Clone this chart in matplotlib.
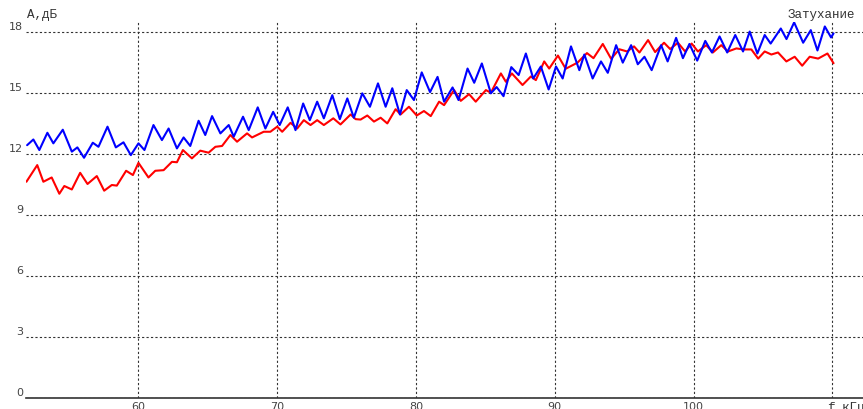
import numpy as np
import matplotlib.pyplot as plt

# верхняя кривая (синяя): частота, кГц и затухание, дБ
f_blue = [52.0, 52.45, 52.88, 53.46, 53.89, 54.57, 55.22, 55.62, 56.1, 56.73,
          57.14, 57.79, 58.39, 58.94, 59.47, 60.02, 60.45, 61.1, 61.71, 62.19,
          62.79, 63.27, 63.75, 64.35, 64.83, 65.32, 65.92, 66.52, 66.88, 67.55,
          67.96, 68.61, 69.16, 69.72, 70.19, 70.77, 71.33, 71.88, 72.36, 72.89,
          73.37, 73.98, 74.52, 75.06, 75.53, 76.14, 76.69, 77.27, 77.82, 78.3,
          78.85, 79.34, 79.86, 80.42, 81.02, 81.56, 82.03, 82.64, 83.07, 83.72,
          84.2, 84.75, 85.4, 85.81, 86.31, 86.87, 87.4, 87.92, 88.45, 89.0,
          89.56, 90.09, 90.57, 91.17, 91.77, 92.13, 92.73, 93.33, 93.82, 94.42,
          94.9, 95.5, 95.98, 96.46, 96.98, 97.66, 98.13, 98.74, 99.23, 99.7,
          100.26, 100.84, 101.32, 101.87, 102.42, 103.0, 103.56, 104.04, 104.59, 105.12,
          105.55, 106.28, 106.69, 107.24, 107.89, 108.44, 108.92, 109.45, 109.9, 110.08]
a_blue = [12.44, 12.72, 12.2, 13.05, 12.53, 13.2, 12.12, 12.33, 11.82, 12.56,
          12.36, 13.35, 12.33, 12.58, 11.95, 12.53, 12.2, 13.43, 12.69, 13.26,
          12.28, 12.82, 12.4, 13.64, 12.94, 13.87, 13.02, 13.43, 12.86, 13.84,
          13.18, 14.3, 13.26, 14.08, 13.43, 14.3, 13.18, 14.49, 13.67, 14.58,
          13.76, 14.9, 13.72, 14.74, 13.79, 14.99, 14.33, 15.48, 14.33, 15.24,
          13.95, 15.15, 14.66, 16.02, 15.05, 15.8, 14.58, 15.28, 14.66, 16.21,
          15.51, 16.46, 14.99, 15.3, 14.85, 16.28, 15.89, 16.95, 15.72, 16.31,
          15.18, 16.31, 15.72, 17.3, 16.13, 16.9, 15.72, 16.56, 16.0, 17.36,
          16.5, 17.36, 16.42, 16.79, 16.13, 17.36, 16.56, 17.72, 16.72, 17.42,
          16.6, 17.57, 17.0, 17.79, 17.0, 17.86, 17.05, 18.03, 16.95, 17.86,
          17.44, 18.18, 17.66, 18.48, 17.48, 18.1, 17.1, 18.28, 17.74, 17.94]

# нижняя кривая (красная)
f_red = [51.95, 52.73, 53.17, 53.77, 54.32, 54.68, 55.22, 55.82, 56.35, 57.02,
         57.55, 58.1, 58.46, 59.13, 59.62, 60.02, 60.74, 61.23, 61.83, 62.43,
         62.79, 63.22, 63.87, 64.47, 65.07, 65.56, 66.04, 66.64, 67.12, 67.84,
         68.2, 69.04, 69.52, 70.01, 70.37, 70.97, 71.45, 71.93, 72.41, 72.89,
         73.37, 74.05, 74.57, 75.3, 75.66, 76.02, 76.5, 76.98, 77.46, 77.94,
         78.54, 78.9, 79.5, 80.06, 80.58, 81.07, 81.67, 82.03, 82.75, 83.23,
         83.83, 84.31, 85.04, 85.4, 86.12, 86.48, 86.91, 87.68, 88.28, 88.64,
         89.24, 89.6, 90.23, 90.79, 91.64, 92.32, 92.79, 93.46, 94.06, 94.65,
         95.21, 95.71, 96.1, 96.72, 97.23, 97.87, 98.31, 98.87, 99.39, 99.86,
         100.31, 100.91, 101.39, 101.99, 102.48, 103.08, 103.59, 104.16, 104.65, 105.12,
         105.6, 106.08, 106.68, 107.28, 107.82, 108.36, 108.97, 109.64, 110.08]
a_red = [10.64, 11.46, 10.64, 10.85, 10.05, 10.43, 10.26, 11.08, 10.53, 10.92,
         10.2, 10.48, 10.45, 11.18, 10.97, 11.57, 10.85, 11.18, 11.21, 11.62,
         11.6, 12.2, 11.79, 12.17, 12.07, 12.36, 12.4, 12.94, 12.61, 13.02,
         12.82, 13.1, 13.1, 13.35, 13.1, 13.54, 13.26, 13.67, 13.43, 13.67,
         13.43, 13.76, 13.46, 13.95, 13.72, 13.7, 13.9, 13.6, 13.79, 13.51,
         14.21, 13.95, 14.33, 13.9, 14.12, 13.87, 14.58, 14.41, 15.15, 14.62,
         14.95, 14.58, 15.15, 15.02, 15.97, 15.56, 15.97, 15.4, 15.82, 15.64,
         16.56, 16.21, 16.85, 16.2, 16.5, 16.97, 16.72, 17.42, 16.69, 17.16,
         17.05, 17.3, 17.0, 17.61, 17.02, 17.48, 17.17, 17.48, 17.05, 17.44,
         17.05, 17.36, 17.0, 17.36, 17.05, 17.2, 17.15, 17.15, 16.7, 17.05,
         16.9, 17.0, 16.56, 16.79, 16.35, 16.79, 16.7, 16.95, 16.47]

x_ticks = [60, 70, 80, 90, 100, 110]
x_labels = ['60', '70', '80', '90', '100', '']   # на месте 110 подпись оси
y_ticks = [0, 3, 6, 9, 12, 15, 18]

W, H = 863, 409
fig = plt.figure(figsize=(W / 100, H / 100), dpi=100)
ax = fig.add_axes([26 / W, 11 / H, 1 - 26 / W, (387 - 11) / H])

line_kw = dict(lw=1.5, zorder=3, solid_joinstyle='round', solid_capstyle='round')
ax.plot(f_red, a_red, color='#ff0000', **line_kw)
ax.plot(f_blue, a_blue, color='#0000ff', **line_kw)

ax.set_xlim(51.92, 112.2)
ax.set_ylim(0, 18.5)
ax.set_xticks(x_ticks)
ax.set_yticks(y_ticks)
ax.set_xticklabels(x_labels)
ax.set_yticklabels([str(v) for v in y_ticks])
for lab in ax.get_yticklabels():
    lab.set_verticalalignment('bottom')

ax.tick_params(length=0, labelsize=8, colors='#444444')
ax.tick_params(axis='x', pad=3)
ax.tick_params(axis='y', pad=2)

ax.grid(True, color='#333333', linestyle=(0, (2, 2)), linewidth=0.8)
for s in ['left', 'top', 'right']:
    ax.spines[s].set_visible(False)
ax.spines['bottom'].set_color('#333333')
ax.spines['bottom'].set_linewidth(1.2)
ax.spines['bottom'].set_zorder(4)

mono = dict(family='Liberation Mono', size=9, color='#333333')
fig.text(27 / W, 1 - 15 / H, 'A,дБ', ha='left', va='center', **mono)
fig.text(855 / W, 1 - 15 / H, 'Затухание', ha='right', va='center', **mono)
fig.text(827 / W, 1 - 402 / H, 'f,кГц', ha='left', va='top', **mono)

fig.savefig('out.png', dpi=100)
